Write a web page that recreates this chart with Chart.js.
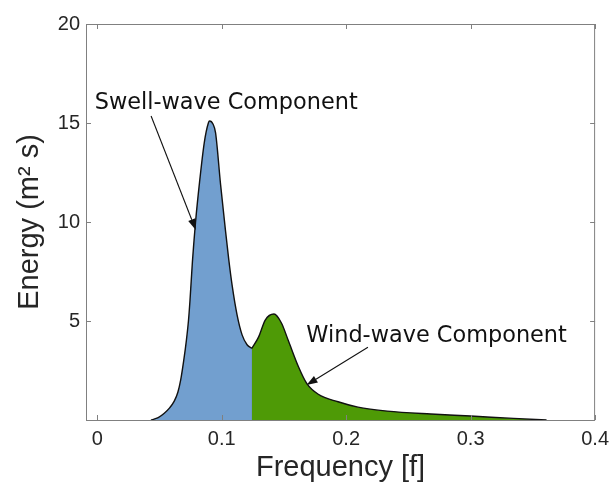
<!DOCTYPE html>
<html><head><meta charset="utf-8">
<script src="https://cdn.jsdelivr.net/npm/chart.js@4/dist/chart.umd.min.js"></script>
<style>html,body{margin:0;padding:0;background:#fff}#wrap{width:616px;height:484px}</style>
</head><body><div id="wrap"><canvas id="c" width="616" height="484"></canvas></div>
<script>
// ---- data ----
const swellFreq   = [0.0432,0.049,0.0539,0.058,0.0619,0.0648,0.067,0.0695,0.0716,0.0733,0.0745,0.0755,0.0765,0.0777,0.079,0.0822,0.086,0.0893,0.0903,0.093,0.0951,0.0991,0.103,0.1057,0.1084,0.1124,0.1164,0.1204,0.1243];
const swellEnergy = [0,0.12,0.34,0.6,0.95,1.4,2.0,3.0,4.0,5.0,6.0,7.0,8.0,9.0,10.0,12.0,14.0,15.0,15.1,14.95,14.5,11.9,9.6,8.1,6.8,5.3,4.3,3.8,3.62];
const windFreq    = [0.1243,0.1297,0.135,0.142,0.148,0.1536,0.1616,0.1683,0.1776,0.1935,0.2095,0.233,0.268,0.30,0.3345,0.361];
const windEnergy  = [3.62,4.2,5.05,5.35,4.9,4.0,2.7,1.85,1.3,0.92,0.65,0.45,0.30,0.2,0.08,0];
const xTicks = [0,0.1,0.2,0.3,0.4];
const yTicks = [5,10,15,20];
const labelTexts   = ["Swell-wave Component","Wind-wave Component"];
const labelAnchors = [[-0.002,16.0],[0.168,4.22]];
const arrowTails   = [[0.0433,15.35],[0.2175,3.67]];
const arrowHeads   = [[0.0792,9.6],[0.1682,1.77]];

const toPts = (xs, ys) => xs.map((x,i)=>({x:x,y:ys[i]}));
const splitF = swellFreq[swellFreq.length-1], splitE = swellEnergy[swellEnergy.length-1];

const frameColor = '#808080';
const txtColor = '#262626';

const decor = {
  id:'decor',
  afterDatasetsDraw(chart){
    const {ctx, chartArea:a, scales:{x, y}} = chart;
    ctx.save();
    ctx.strokeStyle = frameColor; ctx.lineWidth = 1;
    ctx.strokeRect(a.left+0.5, a.top+0.5, a.right-a.left-1, a.bottom-a.top);
    ctx.beginPath();
    xTicks.forEach(v=>{
      const px = Math.round(x.getPixelForValue(v))+0.5;
      ctx.moveTo(px, a.bottom); ctx.lineTo(px, a.bottom-5);
      ctx.moveTo(px, a.top); ctx.lineTo(px, a.top+5);
    });
    yTicks.forEach(v=>{
      const py = Math.round(y.getPixelForValue(v))+0.5;
      ctx.moveTo(a.left, py); ctx.lineTo(a.left+5, py);
      ctx.moveTo(a.right, py); ctx.lineTo(a.right-5, py);
    });
    ctx.stroke();
    ctx.fillStyle = '#111'; ctx.strokeStyle = '#111';
    ctx.font = '22.4px "DejaVu Sans"';
    ctx.textBaseline = 'middle'; ctx.textAlign = 'left';
    labelTexts.forEach((t,i)=>{
      ctx.fillText(t, x.getPixelForValue(labelAnchors[i][0]), y.getPixelForValue(labelAnchors[i][1]));
    });
    arrowTails.forEach((tl,i)=>{
      const x0 = x.getPixelForValue(tl[0]), y0 = y.getPixelForValue(tl[1]);
      const x1 = x.getPixelForValue(arrowHeads[i][0]), y1 = y.getPixelForValue(arrowHeads[i][1]);
      const ang = Math.atan2(y1-y0, x1-x0);
      const L = 11, W = 3.8;
      const bx = x1 - L*Math.cos(ang), by = y1 - L*Math.sin(ang);
      ctx.lineWidth = 1.1;
      ctx.beginPath(); ctx.moveTo(x0,y0); ctx.lineTo(bx,by); ctx.stroke();
      ctx.beginPath();
      ctx.moveTo(x1,y1);
      ctx.lineTo(bx + W*Math.sin(ang), by - W*Math.cos(ang));
      ctx.lineTo(bx - W*Math.sin(ang), by + W*Math.cos(ang));
      ctx.closePath(); ctx.fill();
    });
    ctx.restore();
  }
};

new Chart(document.getElementById('c'), {
  type:'line',
  data:{
    datasets:[
      {data:toPts(swellFreq, swellEnergy), backgroundColor:'#729fcf', borderColor:'#111', borderWidth:1.4, fill:'origin', pointRadius:0, cubicInterpolationMode:'monotone'},
      {data:toPts(windFreq, windEnergy), backgroundColor:'#4e9a06', borderColor:'#111', borderWidth:1.4, fill:'origin', pointRadius:0, cubicInterpolationMode:'monotone'},
      {data:[{x:splitF,y:0},{x:splitF,y:splitE}], borderColor:'#111', borderWidth:1.4, fill:false, pointRadius:0}
    ]
  },
  options:{
    responsive:false, animation:false, devicePixelRatio:1,
    layout:{padding:{left:0, top:24, right:16, bottom:0}},
    plugins:{legend:{display:false}, tooltip:{enabled:false}},
    scales:{
      x:{type:'linear', min:-0.009, max:0.4,
        afterBuildTicks:s=>{s.ticks = xTicks.map(v=>({value:v}));},
        afterFit:s=>{s.height = 64;},
        grid:{display:false, drawTicks:false}, border:{display:false},
        ticks:{padding:7, color:txtColor, font:{family:'"Liberation Sans", Arial', size:20}, maxRotation:0, autoSkip:false,
          callback:v=>String(+(+v).toFixed(2))},
        title:{display:true, text:'Frequency [f]', color:txtColor, font:{family:'"Liberation Sans", Arial', size:29}, padding:{top:0,bottom:-1}}
      },
      y:{type:'linear', min:0, max:20,
        afterBuildTicks:s=>{s.ticks = yTicks.map(v=>({value:v}));},
        afterFit:s=>{s.width = 86;},
        grid:{display:false, drawTicks:false}, border:{display:false},
        ticks:{padding:6, color:txtColor, font:{family:'"Liberation Sans", Arial', size:20},
          callback:v=>String(v)},
        title:{display:true, text:'Energy (m² s)', color:txtColor, font:{family:'"Liberation Sans", Arial', size:29}, padding:{top:13,bottom:0}}
      }
    }
  },
  plugins:[decor]
});
</script>
</body></html>
